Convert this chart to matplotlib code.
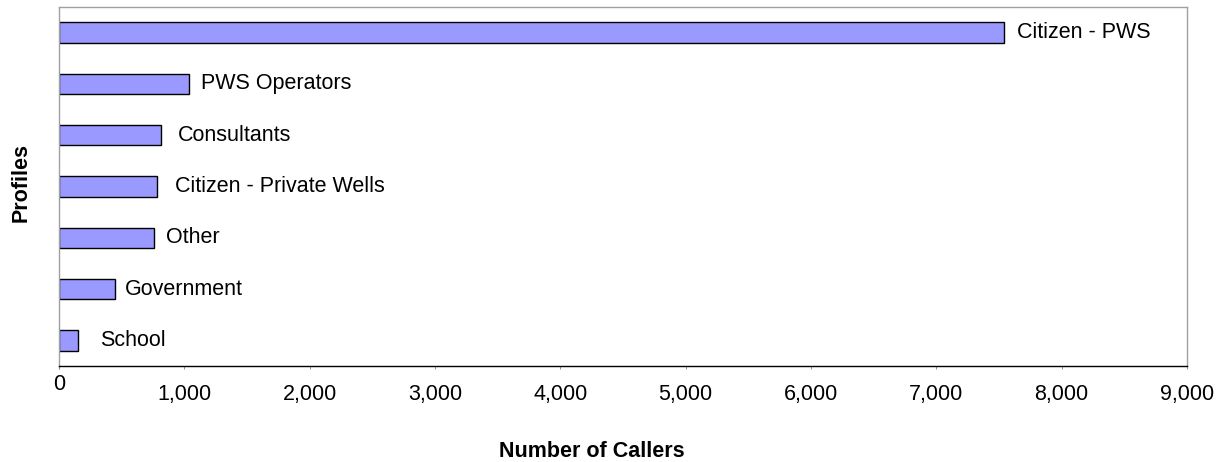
import matplotlib
matplotlib.use('Agg')
import matplotlib.pyplot as plt

plt.rcParams['font.family'] = ['Liberation Sans', 'DejaVu Sans']

# top to bottom, as in the chart
PROFILES = ['Citizen - PWS', 'PWS Operators', 'Consultants', 'Citizen - Private Wells',
            'Other', 'Government', 'School']
CALLERS = [7540, 1040, 812, 780, 758, 447, 152]
X_TICKS = [0, 1000, 2000, 3000, 4000, 5000, 6000, 7000, 8000, 9000]

# gap between bar end and label (px), Excel put them a bit unevenly
LABEL_GAPS = [13, 12, 17, 18, 12, 10, 22]

fig = plt.figure(figsize=(12.22, 4.62), dpi=100)
ax = fig.add_axes([59 / 1222, 1 - 366 / 462, 1128 / 1222, 359 / 462])

ypos = list(range(len(PROFILES)))
ax.barh(ypos, CALLERS, height=0.4, color='#9999FF', edgecolor='black', linewidth=1)

for y, v, name, gap in zip(ypos, CALLERS, PROFILES, LABEL_GAPS):
    ax.annotate(name, (v, y), xytext=(gap * 0.72, 0), textcoords='offset points',
                va='center', ha='left', fontsize=15.5)

ax.set_ylim(len(PROFILES) - 0.5, -0.5)
ax.set_xlim(0, 9000)
ax.set_yticks([])

# "0" sits higher than the other tick labels in the original
ax.set_xticks([0])
ax.set_xticklabels(['0'])
ax.set_xticks(X_TICKS[1:], minor=True)
ax.set_xticklabels(['{:,}'.format(t) for t in X_TICKS[1:]], minor=True)
ax.tick_params(axis='x', which='major', length=2.5, pad=3.5, labelsize=15.5, color='#808080')
ax.tick_params(axis='x', which='minor', length=2.5, pad=10.5, labelsize=15.5, color='#808080')

for s in ['top', 'right', 'left']:
    ax.spines[s].set_color('#a0a0a0')
    ax.spines[s].set_linewidth(1)
ax.spines['bottom'].set_color('black')
ax.spines['bottom'].set_linewidth(1)

ax.set_xlabel('Number of Callers', fontsize=15.5, fontweight='bold')
ax.xaxis.set_label_coords((592 - 59) / 1128, -(457 - 366) / 359, transform=ax.transAxes)
ax.xaxis.label.set_va('baseline')
ax.set_ylabel('Profiles', fontsize=15.5, fontweight='bold')
ax.yaxis.label.set_va('center')
ax.yaxis.set_label_coords(-(59 - 21) / 1128, (366 - 183) / 359)

fig.savefig('out.png', dpi=100)
